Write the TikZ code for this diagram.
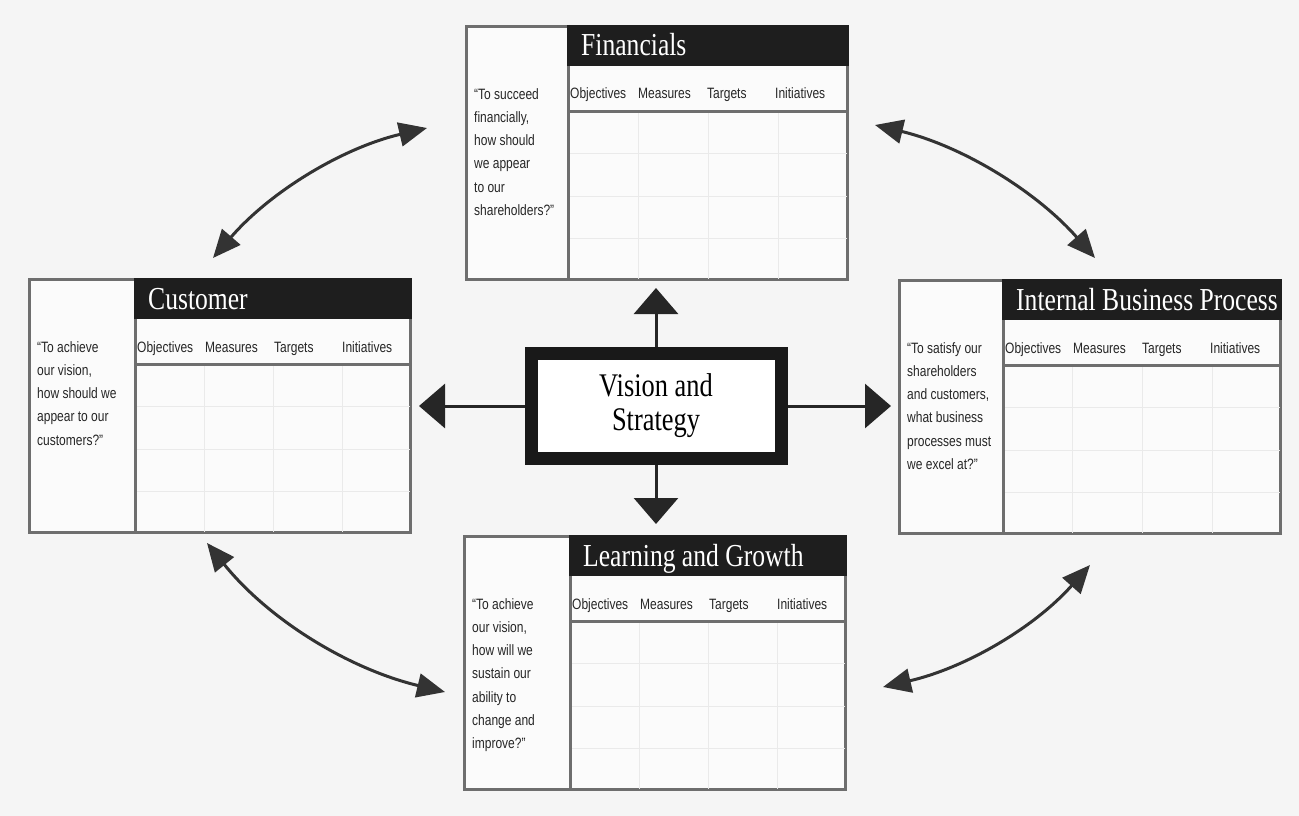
\documentclass[tikz,border=0pt]{standalone}
\usepackage{fontspec}
\setmainfont{Liberation Serif}
\newfontfamily\hdrfont[FakeStretch=0.8]{Liberation Serif}
\newfontfamily\narrowfont[FakeStretch=0.8]{Liberation Sans}
\usetikzlibrary{arrows.meta,calc}
\definecolor{bgc}{RGB}{245,245,245}
\definecolor{framec}{RGB}{110,110,110}
\definecolor{hdrc}{RGB}{30,30,30}
\definecolor{gridc}{RGB}{234,234,234}
\definecolor{innerc}{RGB}{251,251,251}
\tikzset{
  frame/.style={draw=framec, line width=3pt, fill=innerc, minimum width=381pt, minimum height=253pt, inner sep=0pt},
  hdrtext/.style={text=white, font=\hdrfont\fontsize{32}{36}\selectfont, anchor=base west, inner sep=0pt},
  colhead/.style={font=\narrowfont\fontsize{15}{18}\selectfont, anchor=base west, inner sep=0pt, text=black!85},
  quotetext/.style={font=\narrowfont\fontsize{15}{23.3}\selectfont, align=left, anchor=north west, inner sep=0pt, text=black!85},
  gridline/.style={draw=gridc, line width=1pt},
  sepline/.style={draw=framec, line width=3pt},
  vsbox/.style={draw=black!90, line width=13pt, fill=white, minimum width=250pt, minimum height=105pt, inner sep=0pt, font=\hdrfont\fontsize{33}{34}\selectfont, align=center},
  mainarrow/.style={draw=black!85, line width=3pt, -{Triangle[length=26pt,width=44pt]}, shorten >=7pt},
  linkarrow/.style={draw=black!80, line width=3pt, {Triangle[length=28pt,width=24pt]}-{Triangle[length=28pt,width=24pt]}},
}
\newcommand{\bscpanel}[6]{%
  \begin{scope}[shift={(#2,#3)}]
    \node[frame, anchor=north west] (#1) at (0,0) {};
    \foreach \k in {1,2,3} {
      \draw[gridline] ({#4+\k*(384-#4)/4},86) -- ({#4+\k*(384-#4)/4},254);
      \draw[gridline] (#4,{86+\k*42.5}) -- (382,{86+\k*42.5});
    }
    \draw[sepline] (#4,0) -- (#4,256);
    \draw[sepline] (#4,86) -- (384,86);
    \fill[hdrc] ({#4-1.5},0) rectangle (384,41);
    \node[hdrtext] (#1-title) at ({#4+13},31) {#5};
    \node[colhead] (#1-obj) at ({#4+2},74) {Objectives};
    \node[colhead] (#1-mea) at ({#4+70},74) {Measures};
    \node[colhead] (#1-tar) at ({#4+139},74) {Targets};
    \node[colhead] (#1-ini) at ({#4+207},74) {Initiatives};
    \node[quotetext] (#1-quote) at (9,63) {#6};
  \end{scope}}
\begin{document}
\begin{tikzpicture}[x=1pt,y=-1pt]
\fill[bgc] (0,0) rectangle (1299,816);
\useasboundingbox (0,0) rectangle (1299,816);

\bscpanel{fin}{465}{25}{103}{Financials}{“To succeed\\financially,\\how should\\we appear\\to our\\shareholders?”}
\bscpanel{cus}{28}{278}{107}{Customer}{“To achieve\\our vision,\\how should we\\appear to our\\customers?”}
\bscpanel{ibp}{898}{279}{105}{Internal Business Process}{“To satisfy our\\shareholders\\and customers,\\what business\\processes must\\we excel at?”}
\bscpanel{lng}{463}{535}{107}{Learning and Growth}{“To achieve\\our vision,\\how will we\\sustain our\\ability to\\change and\\improve?”}

\node[vsbox] (vs) at (656,406) {Vision and\\Strategy};

\draw[mainarrow] (vs.north) -- (vs.north |- fin.south);
\draw[mainarrow] (vs.west) -- (vs.west -| cus.east);
\draw[mainarrow] (vs.east) -- (vs.east -| ibp.west);
\draw[mainarrow, shorten >=11pt] (vs.south) -- (vs.south |- lng.north);

\coordinate (fc1) at (213,258);
\coordinate (fc2) at (427,128);
\coordinate (fi1) at (875,125);
\coordinate (fi2) at (1095,258);
\coordinate (cl1) at (207,543);
\coordinate (cl2) at (445,692);
\coordinate (li1) at (883,687);
\coordinate (li2) at (1090,565);

\draw[linkarrow] (fc1) .. controls (270,192) and (342,148) .. (fc2);
\draw[linkarrow] (fi1) .. controls (962,146) and (1036,191) .. (fi2);
\draw[linkarrow] (cl1) .. controls (269,620) and (349,669) .. (cl2);
\draw[linkarrow] (li1) .. controls (965,668) and (1034,628) .. (li2);
\end{tikzpicture}
\end{document}
